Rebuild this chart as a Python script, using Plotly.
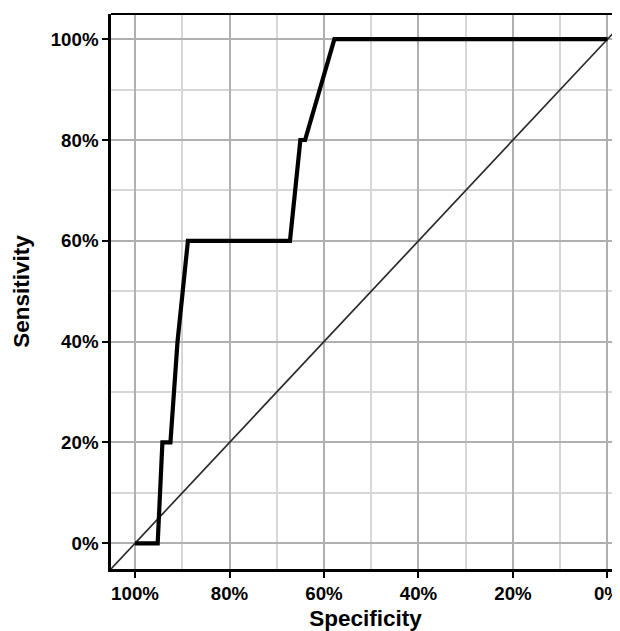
import plotly.graph_objects as go

# ROC curve (percent)
specificity = [100, 95.2, 94.2, 92.5, 91.0, 88.8, 67.2, 65.0, 64.0, 57.8, 0]
sensitivity = [0, 0, 20, 20, 40, 60, 60, 80, 80, 100, 100]

tick_values = [0, 20, 40, 60, 80, 100]
tick_labels = ["0%", "20%", "40%", "60%", "80%", "100%"]

x_range = [105.08, -2.65]
y_range = [-5.1, 105.0]

FONT = "Liberation Sans, Arial, Helvetica, sans-serif"

fig = go.Figure()

# chance diagonal (sensitivity = 1 - specificity) spanning the axis range
diag_x = [x_range[0] + 5, x_range[1] - 5]
diag_y = [100 - v for v in diag_x]
fig.add_trace(go.Scatter(x=diag_x, y=diag_y, mode="lines",
                         line=dict(color="#2a2a2a", width=1.7),
                         hoverinfo="skip", showlegend=False))

fig.add_trace(go.Scatter(x=specificity, y=sensitivity, mode="lines",
                         line=dict(color="black", width=4.2),
                         showlegend=False))

axis_common = dict(
    showgrid=True, gridcolor="#b0b0b0", gridwidth=2,
    zeroline=False,
    showline=True, linecolor="black", linewidth=2.5,
    ticks="outside", ticklen=6, tickwidth=2, tickcolor="black",
    tickvals=tick_values, ticktext=tick_labels,
    ticklabeloverflow="allow",
    tickfont=dict(family=FONT, size=18.7, color="black", weight="bold"),
    minor=dict(dtick=10, tick0=0, showgrid=True, gridcolor="#d6d6d6", gridwidth=1.6, ticks=""),
)

fig.update_xaxes(range=x_range, mirror=False,
                 title=dict(text="Specificity", standoff=11,
                            font=dict(family=FONT, size=22.5, color="black", weight="bold")),
                 **axis_common)
fig.update_yaxes(range=y_range, mirror=False,
                 title=dict(text="Sensitivity", standoff=15,
                            font=dict(family=FONT, size=22.5, color="black", weight="bold")),
                 **axis_common)

# top panel border
fig.add_shape(type="line", xref="paper", yref="paper", x0=0, x1=1, y0=1, y1=1,
              line=dict(color="black", width=2))

# page body adds an 8px offset; size the figure so the panel reaches the window edge
fig.update_layout(
    width=612, height=623,
    margin=dict(l=103, r=0, t=6, b=62),
    paper_bgcolor="white", plot_bgcolor="white",
    showlegend=False,
)

fig.write_html("out.html")
